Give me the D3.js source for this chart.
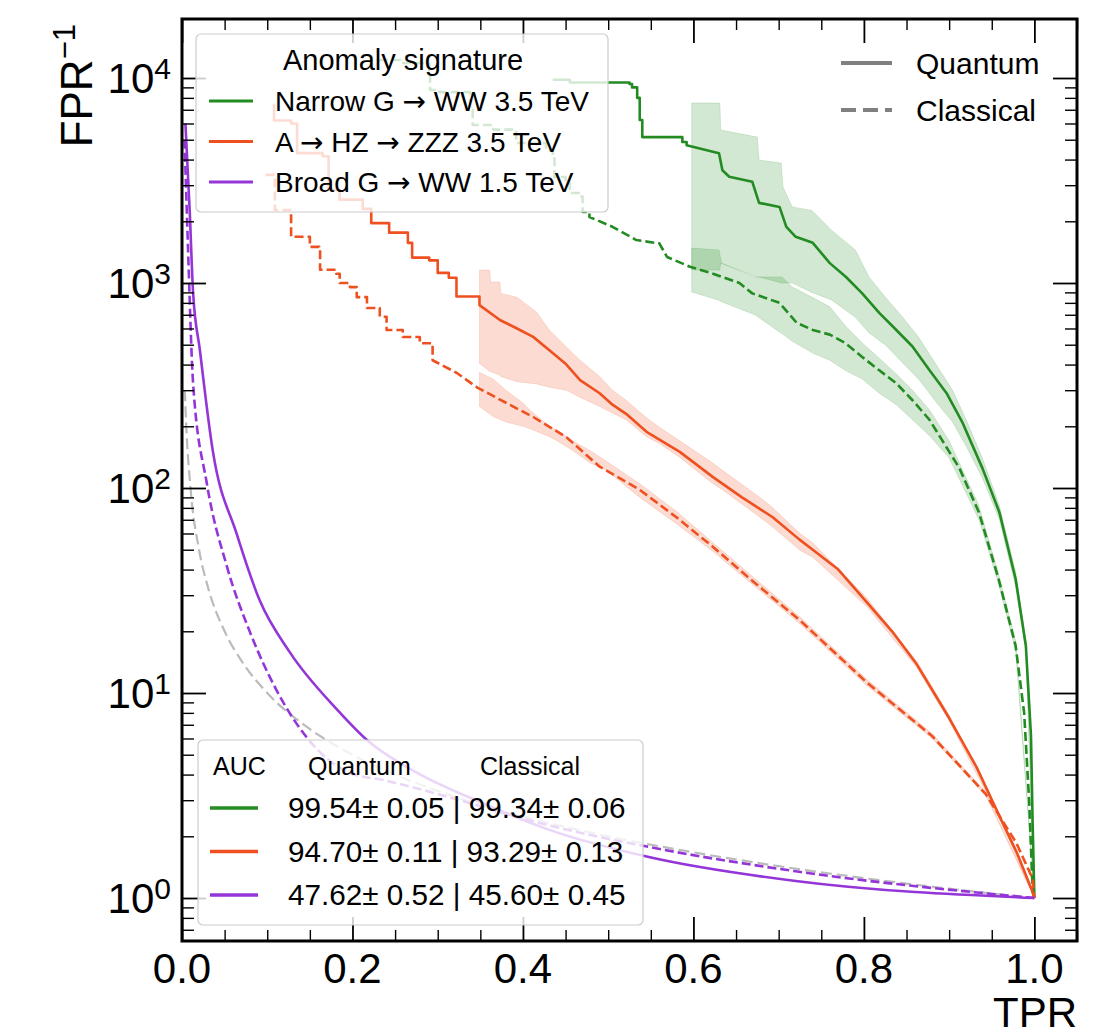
<!DOCTYPE html>
<html>
<head>
<meta charset="utf-8">
<script src="https://cdn.jsdelivr.net/npm/d3@7"></script>
<style>
  body { margin: 0; background: #fff; }
  svg text { font-family: "Liberation Sans", Arial, sans-serif; fill: #000; }
  .arrow { font-family: "DejaVu Sans", sans-serif; }
</style>
</head>
<body>
<div id="chart"></div>
<script>
// ROC curves: [TPR, 1/FPR]
const narrowQuantum = [[0.435, 9800], [0.455, 9500], [0.525, 9350], [0.528, 9000], [0.534, 8000], [0.537, 6240], [0.54, 5150], [0.587, 4870], [0.592, 4700], [0.63, 4300], [0.634, 3550], [0.642, 3300], [0.669, 3120], [0.677, 2460], [0.701, 2350], [0.709, 1880], [0.72, 1680], [0.74, 1570], [0.76, 1250], [0.779, 1070], [0.798, 890], [0.818, 715], [0.838, 590], [0.857, 490], [0.877, 375], [0.897, 290], [0.916, 207], [0.939, 125], [0.959, 76], [0.978, 36], [0.99, 17], [0.996, 6.2], [0.998, 2.27], [1.0, 1.0]];
const narrowClassical = [[0.231, 12250], [0.256, 11840], [0.29, 10940], [0.291, 8740], [0.302, 8530], [0.338, 6980], [0.341, 5900], [0.365, 5600], [0.392, 4820], [0.427, 4450], [0.435, 4120], [0.437, 3290], [0.45, 3070], [0.455, 2750], [0.467, 2640], [0.47, 2220], [0.478, 2100], [0.505, 1880], [0.533, 1620], [0.56, 1560], [0.569, 1340], [0.596, 1200], [0.623, 1110], [0.654, 1000], [0.669, 890], [0.701, 800], [0.721, 640], [0.74, 590], [0.76, 560], [0.778, 510], [0.798, 436], [0.818, 375], [0.838, 324], [0.857, 268], [0.877, 215], [0.912, 125], [0.935, 76], [0.958, 36], [0.978, 17], [0.988, 8], [0.994, 2.9], [0.998, 1.07], [1.0, 1.0]];
const hzzQuantum = [[0.107, 7400], [0.108, 6200], [0.128, 6000], [0.135, 4300], [0.165, 4150], [0.172, 2850], [0.185, 2550], [0.212, 2300], [0.222, 1960], [0.243, 1760], [0.265, 1570], [0.27, 1330], [0.29, 1290], [0.3, 1120], [0.313, 1060], [0.322, 860], [0.349, 780], [0.373, 660], [0.393, 600], [0.412, 546], [0.431, 470], [0.451, 400], [0.467, 336], [0.49, 290], [0.505, 255], [0.521, 230], [0.545, 188], [0.584, 150], [0.623, 113], [0.657, 90], [0.693, 72], [0.7245, 56], [0.74, 50], [0.77, 40], [0.803, 27.8], [0.833, 20], [0.862, 13.8], [0.9, 7.55], [0.932, 4.36], [0.959, 2.51], [0.979, 1.68], [0.998, 1.07], [1.0, 1.0]];
const hzzClassical = [[0.098, 3370], [0.108, 3300], [0.109, 2270], [0.127, 2170], [0.128, 1680], [0.15, 1500], [0.161, 1450], [0.162, 1160], [0.181, 1110], [0.185, 1000], [0.197, 955], [0.205, 853], [0.217, 755], [0.232, 685], [0.24, 590], [0.259, 545], [0.279, 508], [0.294, 420], [0.322, 365], [0.346, 310], [0.373, 270], [0.412, 222], [0.451, 177], [0.49, 127], [0.537, 98], [0.58, 72], [0.623, 51.6], [0.67, 35], [0.7245, 22.7], [0.803, 11.3], [0.88, 6.17], [0.943, 3.21], [0.979, 1.85], [0.998, 1.24], [1.0, 1.0]];
const broadQuantum = [[0.004, 6000], [0.009, 2270], [0.013, 900], [0.021, 470], [0.036, 153], [0.064, 60], [0.091, 28.4], [0.127, 15.7], [0.182, 8.3], [0.217, 5.9], [0.275, 4.1], [0.353, 2.9], [0.431, 2.15], [0.549, 1.58], [0.72, 1.21], [1.0, 1.0]];
const broadClassical = [[0.003, 5000], [0.007, 1500], [0.013, 325], [0.029, 106], [0.053, 41], [0.08, 19.7], [0.111, 10.3], [0.146, 6.1], [0.197, 4.07], [0.236, 3.76], [0.314, 3.1], [0.393, 2.48], [0.47, 2.07], [0.549, 1.77], [0.72, 1.35], [1.0, 1.0]];
const randomGuess = [[0.0033, 300], [0.005, 200], [0.01, 100], [0.02, 50], [0.03, 33.3], [0.05, 20], [0.07, 14.3], [0.1, 10], [0.15, 6.67], [0.2, 5], [0.3, 3.33], [0.4, 2.5], [0.5, 2], [0.6, 1.67], [0.7, 1.43], [0.8, 1.25], [0.9, 1.11], [1.0, 1.0]];

// uncertainty bands: [TPR, low, high]
const narrowQuantumBand = [[0.598, 1157, 7550], [0.631, 1157, 7550], [0.632, 1250, 5570], [0.675, 1070, 5150], [0.677, 1070, 3980], [0.703, 1000, 3850], [0.705, 1000, 2940], [0.716, 1000, 2350], [0.739, 900, 2260], [0.762, 827, 1810], [0.79, 680, 1450], [0.806, 570, 1070], [0.825, 500, 855], [0.845, 410, 685], [0.864, 340, 545], [0.884, 265, 405], [0.904, 210, 300], [0.92, 160, 215], [0.939, 112, 140], [0.959, 70, 82], [0.978, 33, 39], [0.99, 16, 18], [1.0, 1.0, 1.05]];
const narrowClassicalBand = [[0.598, 903, 1480], [0.63, 825, 1450], [0.633, 810, 1250], [0.672, 700, 1070], [0.704, 565, 1070], [0.716, 520, 955], [0.74, 455, 850], [0.76, 420, 765], [0.778, 375, 620], [0.798, 340, 510], [0.818, 290, 430], [0.838, 255, 360], [0.857, 215, 300], [0.877, 180, 240], [0.9, 140, 170], [0.935, 70, 82], [0.958, 34, 38], [0.978, 16, 18], [1.0, 1.0, 1.05]];
const hzzQuantumBand = [[0.349, 405, 1157], [0.361, 370, 1157], [0.362, 370, 1011], [0.373, 355, 1011], [0.374, 350, 890], [0.393, 330, 853], [0.416, 322, 720], [0.431, 310, 590], [0.451, 300, 488], [0.467, 277, 420], [0.49, 250, 350], [0.505, 232, 300], [0.521, 215, 268], [0.545, 178, 220], [0.56, 165, 198], [0.584, 141, 170], [0.623, 105, 132], [0.634, 98, 122], [0.678, 72, 90], [0.693, 64.5, 80], [0.725, 49.7, 60], [0.74, 46, 54], [0.803, 26.5, 29.2], [0.862, 13.3, 14.3], [0.9, 7.3, 7.8], [0.959, 2.45, 2.57], [1.0, 1.0, 1.0]];
const hzzClassicalBand = [[0.349, 250, 366], [0.365, 223, 340], [0.38, 210, 300], [0.4, 200, 260], [0.408, 195, 240], [0.431, 178, 200], [0.44, 170, 192], [0.458, 153, 170], [0.478, 133, 153], [0.498, 122, 135], [0.537, 90, 105], [0.58, 67, 77], [0.623, 49, 54], [0.7245, 21.8, 23.6], [0.803, 10.9, 11.7], [0.88, 6.0, 6.35], [0.943, 3.15, 3.28], [1.0, 1.0, 1.0]];

const signatures = ['Narrow G \u2192 WW 3.5 TeV', 'A \u2192 HZ \u2192 ZZZ 3.5 TeV', 'Broad G \u2192 WW 1.5 TeV'];
const colors = ['#228b22', '#ee5020', '#9435d8'];
const aucQuantum = ['99.54\u00b1 0.05', '94.70\u00b1 0.11', '47.62\u00b1 0.52'];
const aucClassical = ['99.34\u00b1 0.06', '93.29\u00b1 0.13', '45.60\u00b1 0.45'];
const xTickValues = [0, 0.2, 0.4, 0.6, 0.8, 1.0];
const yTickExponents = [0, 1, 2, 3, 4];

const width = 1112, height = 1035;
const plot = { left: 182, right: 1077, top: 19, bottom: 941 };

const svg = d3.select('#chart').append('svg')
    .attr('width', width)
    .attr('height', height);

const x = d3.scaleLinear().domain([0, 1.05]).range([plot.left, plot.right]);
const y = d3.scaleLog().domain([0.617, 19400]).range([plot.bottom, plot.top]);

svg.append('clipPath').attr('id', 'clip')
  .append('rect')
    .attr('x', plot.left).attr('y', plot.top)
    .attr('width', plot.right - plot.left).attr('height', plot.bottom - plot.top);

const g = svg.append('g').attr('clip-path', 'url(#clip)');

const area = d3.area()
    .x(d => x(d[0]))
    .y0(d => y(d[1]))
    .y1(d => y(d[2]));

const line = d3.line()
    .x(d => x(d[0]))
    .y(d => y(d[1]));

const stepLine = d3.line()
    .x(d => x(d[0]))
    .y(d => y(d[1]))
    .curve(d3.curveStepAfter);

const smoothLine = d3.line()
    .x(d => x(d[0]))
    .y(d => y(d[1]))
    .curve(d3.curveMonotoneX);

// bands
[[narrowQuantumBand, 0], [narrowClassicalBand, 0], [hzzQuantumBand, 1], [hzzClassicalBand, 1]].forEach(([band, c]) => {
  g.append('path')
      .attr('d', area(band))
      .attr('fill', colors[c])
      .attr('fill-opacity', 0.2)
      .attr('stroke', colors[c])
      .attr('stroke-opacity', 0.15)
      .attr('stroke-width', 1);
});

// random guess
g.append('path')
    .attr('d', smoothLine(randomGuess))
    .attr('fill', 'none')
    .attr('stroke', '#bbbbbb')
    .attr('stroke-width', 2.2)
    .attr('stroke-dasharray', '11,5');

// curves: sparse (low-statistics) part drawn as steps, the rest as lines
const curves = [
  [narrowQuantum, 0, false, 0.6], [narrowClassical, 0, true, 0.48],
  [hzzQuantum, 1, false, 0.35], [hzzClassical, 1, true, 0.3],
  [broadQuantum, 2, false, null], [broadClassical, 2, true, null]
];
curves.forEach(([data, c, dashed, stepUntil]) => {
  let d;
  if (stepUntil === null) {
    d = smoothLine(data);
  } else {
    const head = data.filter(p => p[0] <= stepUntil);
    const tail = data.filter(p => p[0] >= head[head.length - 1][0]);
    d = stepLine(head) + line(tail).replace(/^M/, 'L');
  }
  g.append('path')
      .attr('d', d)
      .attr('fill', 'none')
      .attr('stroke', colors[c])
      .attr('stroke-width', 2.6)
      .attr('stroke-linejoin', 'round')
      .attr('stroke-dasharray', dashed ? '9,4' : null);
});

// ticks on all four sides, pointing inward
const xMinor = d3.range(0, 1.051, 0.05).filter(v => Math.abs(v * 5 - Math.round(v * 5)) > 1e-6);
const yMinor = [];
for (let e = -1; e <= 4; e++) {
  for (let k = 2; k <= 9; k++) {
    const v = k * Math.pow(10, e);
    if (v > 0.617 && v < 19400) yMinor.push(v);
  }
}
const yMajor = yTickExponents.map(e => Math.pow(10, e));

function tickLines(axis, transform, values, size, sw) {
  const a = svg.append('g')
      .attr('transform', transform)
      .call(axis.tickValues(values).tickSize(-size).tickFormat(''));
  a.select('.domain').remove();
  a.selectAll('line').attr('stroke', '#000').attr('stroke-width', sw);
}
tickLines(d3.axisBottom(x), `translate(0,${plot.bottom})`, xTickValues, 24, 1.8);
tickLines(d3.axisBottom(x), `translate(0,${plot.bottom})`, xMinor, 11, 1.4);
tickLines(d3.axisTop(x), `translate(0,${plot.top})`, xTickValues, 24, 1.8);
tickLines(d3.axisTop(x), `translate(0,${plot.top})`, xMinor, 11, 1.4);
tickLines(d3.axisLeft(y), `translate(${plot.left},0)`, yMajor, 24, 1.8);
tickLines(d3.axisLeft(y), `translate(${plot.left},0)`, yMinor, 12, 1.4);
tickLines(d3.axisRight(y), `translate(${plot.right},0)`, yMajor, 24, 1.8);
tickLines(d3.axisRight(y), `translate(${plot.right},0)`, yMinor, 12, 1.4);

// frame
svg.append('rect')
    .attr('x', plot.left).attr('y', plot.top)
    .attr('width', plot.right - plot.left).attr('height', plot.bottom - plot.top)
    .attr('fill', 'none')
    .attr('stroke', '#000')
    .attr('stroke-width', 3);

// tick labels
svg.selectAll('.xlab')
  .data(xTickValues)
  .enter().append('text')
    .attr('x', d => x(d))
    .attr('y', 983)
    .attr('text-anchor', 'middle')
    .attr('font-size', 42)
    .text(d => d3.format('.1f')(d));

yTickExponents.forEach(e => {
  const t = svg.append('text')
      .attr('x', 171)
      .attr('y', y(Math.pow(10, e)) + 15)
      .attr('text-anchor', 'end')
      .attr('font-size', 42);
  t.append('tspan').text('10');
  t.append('tspan').attr('dy', -14).attr('font-size', 30).text(e);
});

// axis titles
const ylab = svg.append('text')
    .attr('transform', 'translate(92,24) rotate(-90)')
    .attr('text-anchor', 'end')
    .attr('font-size', 44);
ylab.append('tspan').text('FPR');
ylab.append('tspan').attr('dy', -17).attr('font-size', 31).text('\u22121');

svg.append('text')
    .attr('x', plot.right)
    .attr('y', 1027)
    .attr('text-anchor', 'end')
    .attr('font-size', 42)
    .text('TPR');

// text with the arrow glyph set in a wider font
function labelWithArrows(sel, str) {
  str.split('\u2192').forEach((part, i) => {
    if (i > 0) sel.append('tspan').attr('class', 'arrow').text('\u2192');
    sel.append('tspan').text(part);
  });
}

// legend: anomaly signature
svg.append('rect')
    .attr('x', 196).attr('y', 34).attr('width', 412).attr('height', 178)
    .attr('rx', 5)
    .attr('fill', '#fff').attr('fill-opacity', 0.8)
    .attr('stroke', '#cccccc').attr('stroke-width', 1.2);
svg.append('text')
    .attr('x', 403).attr('y', 70)
    .attr('text-anchor', 'middle')
    .attr('font-size', 29)
    .text('Anomaly signature');
signatures.forEach((s, i) => {
  const ly = 101 + i * 40.5;
  svg.append('line')
      .attr('x1', 209).attr('x2', 253).attr('y1', ly).attr('y2', ly)
      .attr('stroke', colors[i]).attr('stroke-width', 3);
  const t = svg.append('text')
      .attr('x', 275).attr('y', ly + 10)
      .attr('font-size', 28);
  labelWithArrows(t, s);
});

// legend: quantum / classical
[['Quantum', null], ['Classical', '15,7']].forEach(([label, dash], i) => {
  const ly = 63 + i * 47;
  svg.append('line')
      .attr('x1', 841).attr('x2', 892).attr('y1', ly).attr('y2', ly)
      .attr('stroke', '#808080').attr('stroke-width', 4)
      .attr('stroke-dasharray', dash);
  svg.append('text')
      .attr('x', 916).attr('y', ly + 11)
      .attr('font-size', 30)
      .text(label);
});

// legend: AUC
svg.append('rect')
    .attr('x', 198).attr('y', 740).attr('width', 445).attr('height', 185)
    .attr('rx', 5)
    .attr('fill', '#fff').attr('fill-opacity', 0.8)
    .attr('stroke', '#cccccc').attr('stroke-width', 1.2);
[['AUC', 213], ['Quantum', 308], ['Classical', 480]].forEach(([label, lx]) => {
  svg.append('text')
      .attr('x', lx).attr('y', 775)
      .attr('font-size', 25)
      .text(label);
});
aucQuantum.forEach((q, i) => {
  const ly = 808 + i * 43.5;
  svg.append('line')
      .attr('x1', 210).attr('x2', 258).attr('y1', ly).attr('y2', ly)
      .attr('stroke', colors[i]).attr('stroke-width', 3.5);
  svg.append('text')
      .attr('x', 288).attr('y', ly + 10)
      .attr('font-size', 29.7)
      .text(q + ' | ' + aucClassical[i]);
});
</script>
</body>
</html>
